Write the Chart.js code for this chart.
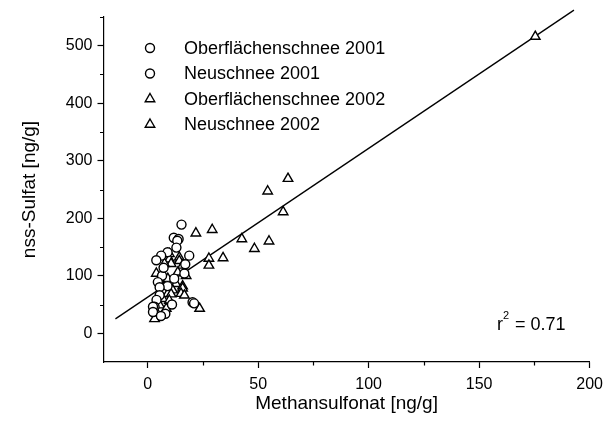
<!DOCTYPE html>
<html>
<head>
<meta charset="utf-8">
<script src="https://cdn.jsdelivr.net/npm/chart.js@4"></script>
<style>
  html, body { margin: 0; padding: 0; background: #fff; }
</style>
</head>
<body>
<canvas id="chart" width="610" height="427"></canvas>
<script>
// MSA vs nss-sulfate, fresh and surface snow 2001/2002

const ober2001X = [15.3, 11.8, 14.0, 13.4, 13.0, 9.0, 18.8, 6.1, 3.9, 7.2, 16.6, 17.0, 12.0];
const ober2001Y = [189, 166, 164, 161, 149, 141, 135, 135, 127, 114, 104, 120, 95];

const neu2001X = [6.5, 4.6, 9.0, 5.4, 5.4, 4.0, 20.3, 21.0, 11.0, 3.1, 2.4, 2.4, 8.0, 6.0];
const neu2001Y = [100, 89, 82, 80, 66, 58, 54, 52, 50, 46, 46, 37, 34, 30];

const ober2002X = [175.4, 63.5, 54.3, 61.3, 29.2, 21.8, 42.6, 54.9, 48.3, 34.1, 27.7, 27.7, 23.5];
const ober2002Y = [516, 269, 247, 211, 180, 174, 164, 160, 147, 131, 130, 118, 43];

const neu2002X = [9.8, 14.3, 9.8, 14.3, 10.6, 15.8, 7.6, 13.6, 17.4, 3.9, 9.1, 5.4, 12.8,
                  15.8, 15.8, 11.3, 15.1, 9.1, 10.6, 16.6, 6.8, 9.8, 5.4, 8.4, 3.9, 3.1];
const neu2002Y = [138, 132, 129, 126, 121, 118, 121, 106, 100, 104, 95, 92, 86,
                  82, 78, 75, 69, 69, 68, 66, 60, 57, 49, 43, 37, 25];

// regression line end points
const fitX = [-14.6, 192.9];
const fitY = [25, 562];
const rSquared = '0.71';

const xTicks = [0, 50, 100, 150, 200];
const xMinor = [25, 75, 125, 175];
const yTicks = [0, 100, 200, 300, 400, 500];
const yMinor = [50, 150, 250, 350, 450, 550];

const FONT = 'Liberation Sans, Arial, Helvetica, sans-serif';

function toPoints(xs, ys) {
    return xs.map((x, i) => ({ x: x, y: ys[i] }));
}

function markerSet(label, xs, ys, style) {
    return {
        label: label,
        data: toPoints(xs, ys),
        pointStyle: style,
        pointRadius: style === 'triangle' ? 5.5 : 4.5,
        pointBorderWidth: 1.4,
        pointBorderColor: '#000',
        pointBackgroundColor: '#fff',
        showLine: false
    };
}

// short minor ticks, legend and r² label
const extras = {
    id: 'extras',
    afterDraw(chart) {
        const ctx = chart.ctx;
        const xs = chart.scales.x;
        const ys = chart.scales.y;
        const area = chart.chartArea;

        ctx.save();
        ctx.strokeStyle = '#000';
        ctx.lineWidth = 1.2;
        ctx.beginPath();
        xMinor.forEach(v => {
            const px = Math.round(xs.getPixelForValue(v)) + 0.5;
            ctx.moveTo(px, area.bottom);
            ctx.lineTo(px, area.bottom + 3.5);
        });
        yMinor.forEach(v => {
            const py = Math.round(ys.getPixelForValue(v)) + 0.5;
            ctx.moveTo(area.left, py);
            ctx.lineTo(area.left - 3.5, py);
        });
        ctx.stroke();

        // legend
        const sets = chart.data.datasets.filter(d => d.pointStyle);
        ctx.font = '18px ' + FONT;
        ctx.textBaseline = 'middle';
        sets.forEach((d, i) => {
            const y = 48 + i * 25.5;
            ctx.strokeStyle = '#000';
            ctx.fillStyle = '#fff';
            ctx.lineWidth = 1.4;
            Chart.helpers.drawPoint(ctx, {
                pointStyle: d.pointStyle,
                radius: d.pointRadius,
                rotation: 0,
                borderWidth: 1.4
            }, 150, y);
            ctx.fillStyle = '#000';
            ctx.fillText(d.label, 184, y + 1);
        });

        // r² = ...
        ctx.font = '18px ' + FONT;
        ctx.textBaseline = 'alphabetic';
        ctx.fillText('r', 497, 330);
        ctx.font = '11px ' + FONT;
        ctx.fillText('2', 503, 319);
        ctx.font = '18px ' + FONT;
        ctx.fillText('= ' + rSquared, 515, 330);
        ctx.restore();
    }
};

function axisTicks(values) {
    return axis => { axis.ticks = values.map(v => ({ value: v })); };
}

new Chart(document.getElementById('chart'), {
    type: 'scatter',
    data: {
        datasets: [
            markerSet('Oberflächenschnee 2001', ober2001X, ober2001Y, 'circle'),
            markerSet('Neuschnee 2001', neu2001X, neu2001Y, 'circle'),
            markerSet('Oberflächenschnee 2002', ober2002X, ober2002Y, 'triangle'),
            markerSet('Neuschnee 2002', neu2002X, neu2002Y, 'triangle'),
            {
                type: 'line',
                label: 'fit',
                data: toPoints(fitX, fitY),
                borderColor: '#000',
                borderWidth: 1.3,
                pointRadius: 0,
                fill: false,
                clip: false
            }
        ]
    },
    options: {
        responsive: false,
        animation: false,
        layout: { padding: { top: 17, right: 14, bottom: 12, left: 18 } },
        plugins: {
            legend: { display: false },
            tooltip: { enabled: false }
        },
        scales: {
            x: {
                type: 'linear',
                min: -20,
                max: 200,
                afterBuildTicks: axisTicks(xTicks),
                border: { display: true, color: '#000', width: 1.2 },
                grid: { drawOnChartArea: false, drawTicks: true, tickLength: 6, color: '#000', tickWidth: 1.2 },
                ticks: { color: '#000', font: { family: FONT, size: 16 }, padding: 7, maxRotation: 0 },
                title: { display: true, text: 'Methansulfonat [ng/g]', color: '#000',
                         font: { family: FONT, size: 19 }, padding: { top: -9, bottom: 0 } }
            },
            y: {
                type: 'linear',
                min: -50,
                max: 550,
                afterBuildTicks: axisTicks(yTicks),
                border: { display: true, color: '#000', width: 1.2 },
                grid: { drawOnChartArea: false, drawTicks: true, tickLength: 6, color: '#000', tickWidth: 1.2 },
                ticks: { color: '#000', font: { family: FONT, size: 16 }, padding: 5 },
                title: { display: true, text: 'nss-Sulfat [ng/g]', color: '#000',
                         font: { family: FONT, size: 19 }, padding: { top: 0, bottom: 20 } }
            }
        }
    },
    plugins: [extras]
});
</script>
</body>
</html>
